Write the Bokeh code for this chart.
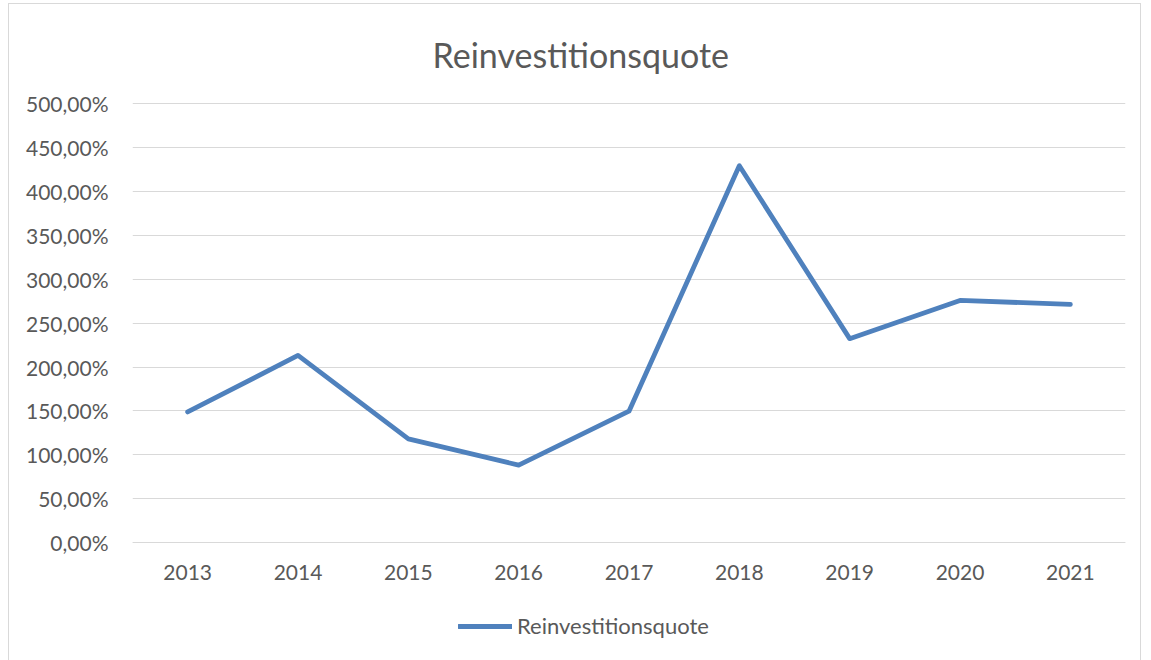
from bokeh.plotting import figure
from bokeh.models import (ColumnDataSource, FactorRange, Range1d, FixedTicker,
                          CustomJSTickFormatter, Legend, LegendItem)
from bokeh.embed import file_html
from bokeh.resources import INLINE

# ---- data ----
years = ["2013", "2014", "2015", "2016", "2017", "2018", "2019", "2020", "2021"]
quote_pct = [148.9, 213.2, 118.2, 88.3, 149.7, 429.2, 232.3, 275.8, 271.3]
y_ticks = [0, 50, 100, 150, 200, 250, 300, 350, 400, 450, 500]
chart_title = "Reinvestitionsquote"
series_name = "Reinvestitionsquote"

FONT = "Lato"
TXT = "#595959"
GRID = "#d9d9d9"
BLUE = "#4f81bd"

# layout (pixels)
W, H = 1133, 658
LEFT, RIGHT, TOP = 123, 17, 97
PLOT_H = 440            # pixels between 0 % and 500 %
Y_MAX = 500
px_per_unit = PLOT_H / Y_MAX
frame_h = H - TOP
y_top = Y_MAX + 1 / px_per_unit                      # 1px headroom so the 500 % gridline shows
y_min = -(frame_h - 1 - PLOT_H) / px_per_unit        # room below 0 % for axis labels and legend

src = ColumnDataSource(dict(year=years, q=quote_pct))

p = figure(width=W, height=H,
           x_range=FactorRange(*years), y_range=Range1d(y_min, y_top),
           output_backend="svg", toolbar_location=None,
           min_border_left=LEFT, min_border_right=RIGHT,
           min_border_top=TOP, min_border_bottom=0,
           title=chart_title)
p.styles = {"border": "1px solid #d9d9d9", "margin-left": "8px", "margin-top": "3px"}
p.outline_line_color = None

p.title.align = "left"
p.title.offset = 300
p.title.text_font = FONT
p.title.text_font_size = "34px"
p.title.text_font_style = "normal"
p.title.text_color = TXT
p.title.standoff = 55

r = p.line("year", "q", source=src, line_color=BLUE, line_width=4.8,
           line_cap="round", line_join="round")

# axes
p.yaxis.ticker = FixedTicker(ticks=y_ticks)
p.yaxis.formatter = CustomJSTickFormatter(
    code="return tick.toFixed(2).replace('.', ',') + '%';")
p.yaxis.axis_line_color = None
p.yaxis.major_tick_line_color = None
p.yaxis.minor_tick_line_color = None
p.yaxis.major_label_standoff = 18
for ax in (p.xaxis, p.yaxis):
    ax.major_label_text_font = FONT
    ax.major_label_text_font_size = "21px"
    ax.major_label_text_color = TXT
p.xaxis.fixed_location = 0
p.xaxis.axis_line_color = GRID
p.xaxis.major_tick_line_color = None
p.xaxis.minor_tick_line_color = None
p.xaxis.major_label_standoff = 16

p.xgrid.grid_line_color = None
p.ygrid.grid_line_color = GRID
p.ygrid.grid_line_width = 1

legend = Legend(items=[LegendItem(label=series_name, renderers=[r])],
                orientation="horizontal", location=(326, 23),
                glyph_width=54, glyph_height=20, label_standoff=5,
                padding=8, margin=0, spacing=0,
                label_text_font=FONT, label_text_font_size="22px",
                label_text_color=TXT,
                border_line_color=None, background_fill_alpha=0)
p.add_layout(legend, "center")

open("out.html", "w").write(file_html(p, INLINE))
